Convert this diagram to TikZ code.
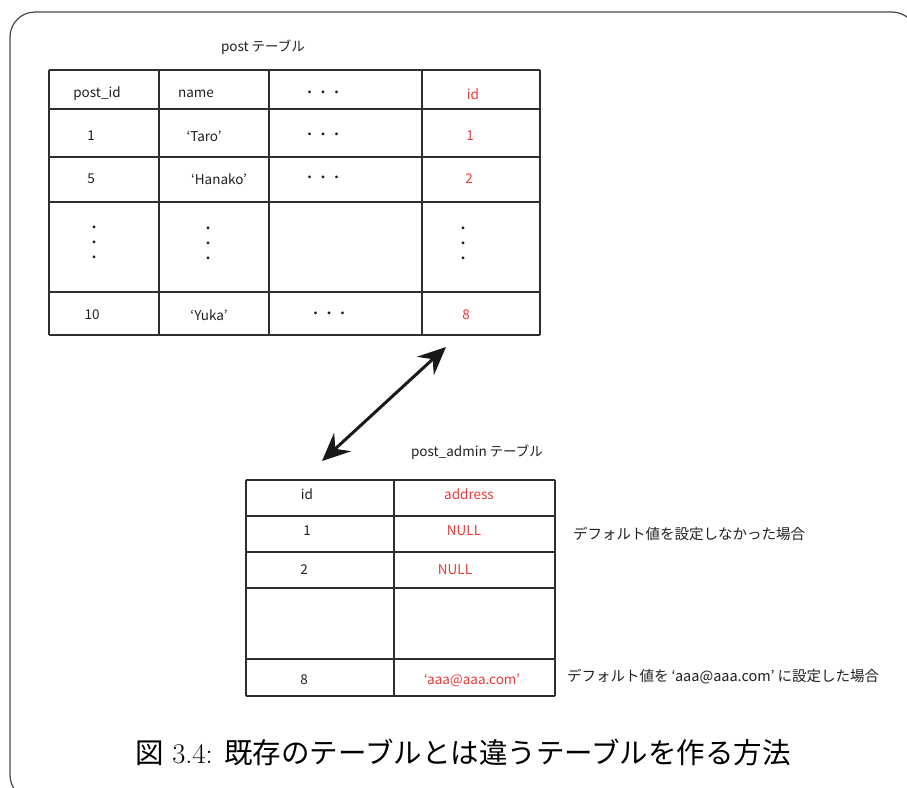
\documentclass[tikz,border=0pt]{standalone}
\usepackage{fontspec}
\newfontfamily\jp{Noto Sans CJK JP}
\usetikzlibrary{arrows.meta}
\definecolor{myred}{RGB}{238,55,55}
\begin{document}
\begin{tikzpicture}[x=1pt,y=-1pt,
  cell/.style={font=\jp\fontsize{13.5}{15}\selectfont, inner sep=0pt, text=black!88},
  rcell/.style={cell, text=myred},
  vdots/.style={cell, align=center, font=\jp\fontsize{13.5}{15}\selectfont},
  gridline/.style={draw=black!82, line width=1.2pt},
  frame/.style={draw=black!72, line width=1.2pt, rounded corners=25pt},
  bigarrow/.style={line width=3pt, black!90, {Stealth[length=28pt,width=25pt,inset=10pt]}-{Stealth[length=28pt,width=25pt,inset=10pt]}},
  note/.style={font=\jp\fontsize{14.5}{16}\selectfont, inner sep=0pt, anchor=west, text=black!88},
  caption/.style={font=\fontsize{28.5}{33}\selectfont, inner sep=0pt}
]
\useasboundingbox (0,0) rectangle (907,787);
\begin{scope}
  \clip (0,0) rectangle (907,787);
  \draw[frame] (10,12) rectangle (917,800);
\end{scope}

% title of top table
\node[cell] (t1) at (263,47) {post\hspace{3pt}テーブル};

% top table grid
\foreach \y in {70,109,157,202,292,335} \draw[gridline] (49,\y) -- (540,\y);
\foreach \x in {49,159,269,422,540} \draw[gridline] (\x,70) -- (\x,335);

% header
\node[cell] (h1) at (97,94) {post\_id};
\node[cell] (h2) at (196,94) {name};
\node[cell] (h3) at (323,94) {・・・};
\node[rcell] (h4) at (473,94) {id};
% row 1
\node[cell] (r11) at (91,136) {1};
\node[cell] (r12) at (204,136) {‘Taro’};
\node[cell] (r13) at (323,136) {・・・};
\node[rcell] (r14) at (470,136) {1};
% row 2
\node[cell] (r21) at (91,179) {5};
\node[cell] (r22) at (219,179) {‘Hanako’};
\node[cell] (r23) at (323,179) {・・・};
\node[rcell] (r24) at (469,179) {2};
% dots row
\node[vdots] (r31) at (94,244) {・\\・\\・};
\node[vdots] (r32) at (208,245) {・\\・\\・};
\node[vdots] (r34) at (463,245) {・\\・\\・};
% last row
\node[cell] (r41) at (92,315) {10};
\node[cell] (r42) at (209,315) {‘Yuka’};
\node[cell] (r43) at (329,315) {・・・};
\node[rcell] (r44) at (466,315) {8};

% arrow
\coordinate (aTop) at (446,347);
\coordinate (aBot) at (322,461);
\draw[bigarrow] (aBot) -- (aTop);

% title of bottom table
\node[cell] (t2) at (477,452) {post\_admin\hspace{3pt}テーブル};

% bottom table grid
\foreach \y in {480,516,552,588,659,696} \draw[gridline] (246,\y) -- (555,\y);
\foreach \x in {246,394,555} \draw[gridline] (\x,480) -- (\x,696);

\node[cell] (b01) at (307,494) {id};
\node[rcell] (b02) at (469,494) {address};
\node[cell] (b11) at (307,531) {1};
\node[rcell] (b12) at (464,531) {NULL};
\node[cell] (b21) at (304,570) {2};
\node[rcell] (b22) at (455,570) {NULL};
\node[cell] (b41) at (304,680) {8};
\node[rcell] (b42) at (472,680) {‘aaa@aaa.com’};

% notes
\node[note] (n1) at (573,534) {デフォルト値を設定しなかった場合};
\node[note] (n2) at (567,677) {デフォルト値を\hspace{3pt}‘aaa@aaa.com’\hspace{3pt}に設定した場合};

% caption
\node[caption] (cap) at (463,752) {{\jp 図} 3.4: {\jp 既存のテーブルとは違うテーブルを作る方法}};
\end{tikzpicture}
\end{document}
